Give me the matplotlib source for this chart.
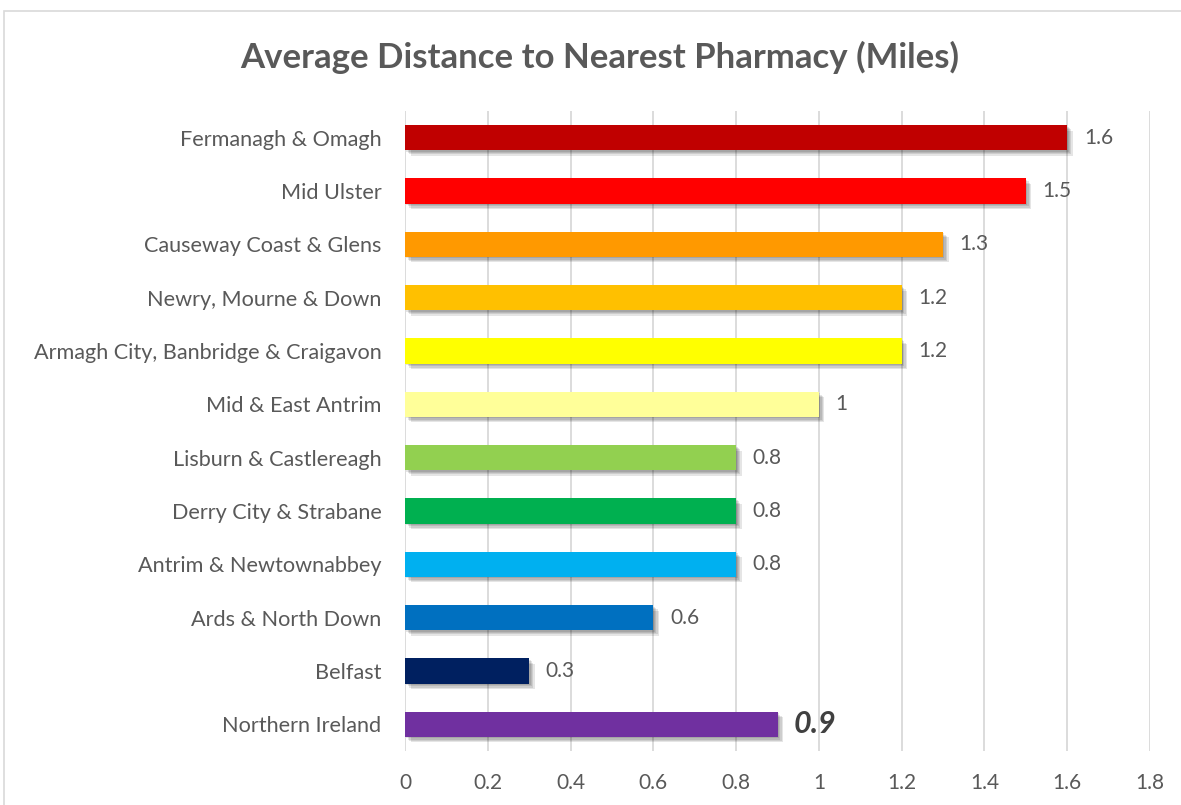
import matplotlib
matplotlib.use("Agg")
import matplotlib.pyplot as plt
import matplotlib.patheffects as pe
from matplotlib.patches import Rectangle

# data, top to bottom as shown
councils = ["Fermanagh & Omagh", "Mid Ulster", "Causeway Coast & Glens",
            "Newry, Mourne & Down", "Armagh City, Banbridge & Craigavon",
            "Mid & East Antrim", "Lisburn & Castlereagh", "Derry City & Strabane",
            "Antrim & Newtownabbey", "Ards & North Down", "Belfast", "Northern Ireland"]
distance = [1.6, 1.5, 1.3, 1.2, 1.2, 1.0, 0.8, 0.8, 0.8, 0.6, 0.3, 0.9]
value_labels = ["1.6", "1.5", "1.3", "1.2", "1.2", "1", "0.8", "0.8", "0.8", "0.6", "0.3", "0.9"]
bar_colors = ["#C00000", "#FF0000", "#FF9900", "#FFC000", "#FFFF00", "#FFFF99",
              "#92D050", "#00B050", "#00B0F0", "#0070C0", "#002060", "#7030A0"]
xticks = [0, 0.2, 0.4, 0.6, 0.8, 1, 1.2, 1.4, 1.6, 1.8]

plt.rcParams['font.family'] = ['Lato', 'DejaVu Sans']
txt = "#595959"

fig = plt.figure(figsize=(11.81, 8.05), dpi=100)
fig.patches.append(Rectangle((4 / 1181, -0.01), 1.0, 1 - 11 / 805 + 0.01, transform=fig.transFigure,
                             fill=False, edgecolor="#D9D9D9", linewidth=1.2))
ax = fig.add_axes([405 / 1181, 54 / 805, 745 / 1181, 640 / 805])

ypos = list(range(len(councils)))
bars = ax.barh(ypos, distance, height=0.47, color=bar_colors, zorder=3)
# soft drop shadow, a few stacked layers
shadow = [pe.SimplePatchShadow(offset=(d, -d), shadow_rgbFace="black", alpha=0.1) for d in (1, 2, 3, 4)]
for b in bars:
    b.set_path_effects(shadow + [pe.Normal()])

for i, (v, lab) in enumerate(zip(distance, value_labels)):
    if i == len(distance) - 1:
        ax.text(v + 0.04, i, lab, va="center", ha="left", fontsize=22, fontweight="bold",
                fontstyle="italic", color="#404040")
    else:
        ax.text(v + 0.04, i, lab, va="center", ha="left", fontsize=15, color=txt)

ax.set_ylim(len(councils) - 0.5, -0.5)
ax.set_xlim(0, 1.8)
ax.set_xticks(xticks)
ax.set_xticklabels([("%g" % t) for t in xticks])
ax.set_yticks(ypos)
ax.set_yticklabels(councils)
ax.tick_params(axis="both", length=0, labelsize=15, labelcolor=txt)
ax.tick_params(axis="y", labelsize=15.6, pad=17)
ax.tick_params(axis="x", pad=16)
ax.grid(axis="x", color="#D9D9D9", linewidth=1.3, zorder=0)
for s in ax.spines.values():
    s.set_visible(False)

fig.text(0.508, 1 - 57 / 805, "Average Distance to Nearest Pharmacy (Miles)", ha="center", va="center",
         fontsize=25, fontweight="bold", color=txt)

fig.savefig("out.png", dpi=100)
